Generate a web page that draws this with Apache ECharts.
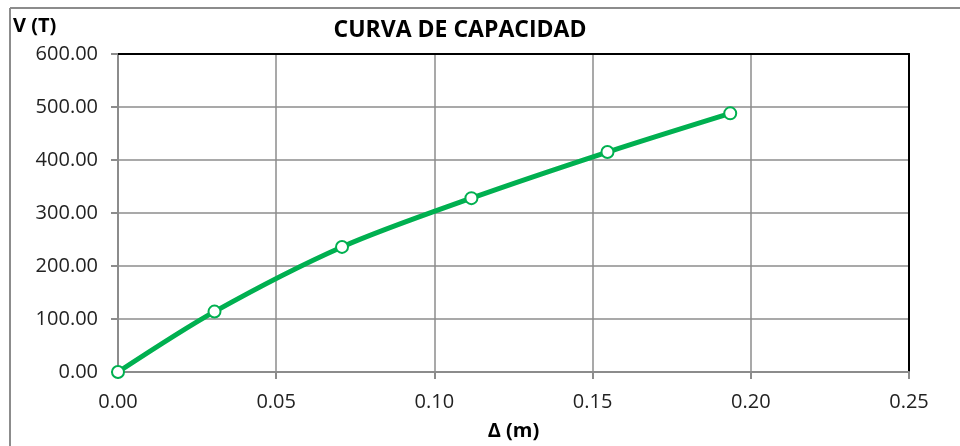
<!DOCTYPE html>
<html>
<head>
<meta charset="utf-8">
<script src="https://cdn.jsdelivr.net/npm/echarts@6/dist/echarts.min.js"></script>
<style>
html,body{margin:0;padding:0;background:#fff;}
#main{width:960px;height:446px;}
</style>
</head>
<body>
<div id="main"></div>
<script>
var desplazamiento = [0, 0.0305, 0.0708, 0.1117, 0.1547, 0.1935];
var cortante = [0, 114, 236, 328, 415, 488];
var titulo = 'CURVA DE CAPACIDAD';
var ejeY = 'V (T)';
var ejeX = 'Δ (m)';

var FONT = '"Open Sans", sans-serif';
var chart = echarts.init(document.getElementById('main'), null, {renderer: 'canvas'});
var pts = desplazamiento.map(function (x, i) { return [x, cortante[i]]; });

function fmt(v) { return v.toFixed(2); }

chart.setOption({
  backgroundColor: '#ffffff',
  animation: false,
  graphic: [
    {type: 'line', shape: {x1: 10, y1: 8, x2: 10, y2: 446}, style: {stroke: '#8c8c8c', lineWidth: 2}},
    {type: 'line', shape: {x1: 10, y1: 8, x2: 960, y2: 8}, style: {stroke: '#8c8c8c', lineWidth: 2}},
    {type: 'text', x: 460, y: 30, style: {text: titulo, font: 'bold 23px ' + FONT, fill: '#000', textAlign: 'center', textVerticalAlign: 'middle'}},
    {type: 'text', left: 13, top: 16, style: {text: ejeY, font: 'bold 20px ' + FONT, fill: '#000'}}
  ],
  grid: {
    left: 118, right: 51, top: 54, bottom: 72,
    show: false
  },
  xAxis: [{
    type: 'value', min: 0, max: 0.25, interval: 0.05,
    name: ejeX, nameLocation: 'middle', nameGap: 49,
    nameTextStyle: {fontFamily: FONT, fontWeight: 'bold', fontSize: 20, color: '#000'},
    axisLine: {show: true, lineStyle: {color: '#8c8c8c', width: 2}},
    axisTick: {show: true, length: 7, lineStyle: {color: '#8c8c8c', width: 2}},
    splitLine: {show: true, lineStyle: {color: '#8c8c8c', width: 1.5}},
    axisLabel: {fontFamily: FONT, fontSize: 20, color: '#222', margin: 20, formatter: fmt}
  }, {
    type: 'value', position: 'top', min: 0, max: 0.25, interval: 0.05,
    axisLine: {show: true, onZero: false, lineStyle: {color: '#000', width: 2}},
    axisTick: {show: false}, axisLabel: {show: false}, splitLine: {show: false}
  }],
  yAxis: [{
    type: 'value', min: 0, max: 600, interval: 100,
    axisLine: {show: true, lineStyle: {color: '#8c8c8c', width: 2}},
    axisTick: {show: true, length: 7, lineStyle: {color: '#8c8c8c', width: 2}},
    splitLine: {show: true, lineStyle: {color: '#8c8c8c', width: 1.5}},
    axisLabel: {fontFamily: FONT, fontSize: 20, color: '#222', margin: 20, formatter: fmt}
  }, {
    type: 'value', position: 'right', min: 0, max: 600, interval: 100,
    axisLine: {show: true, onZero: false, lineStyle: {color: '#000', width: 2}},
    axisTick: {show: false}, axisLabel: {show: false}, splitLine: {show: false}
  }],
  series: [{
    type: 'line',
    xAxisIndex: 0, yAxisIndex: 0,
    data: pts,
    smooth: 0.3,
    symbol: 'circle',
    symbolSize: 12,
    lineStyle: {color: '#00b050', width: 5},
    itemStyle: {color: '#ffffff', borderColor: '#00b050', borderWidth: 2},
    z: 5
  }]
});
</script>
</body>
</html>
